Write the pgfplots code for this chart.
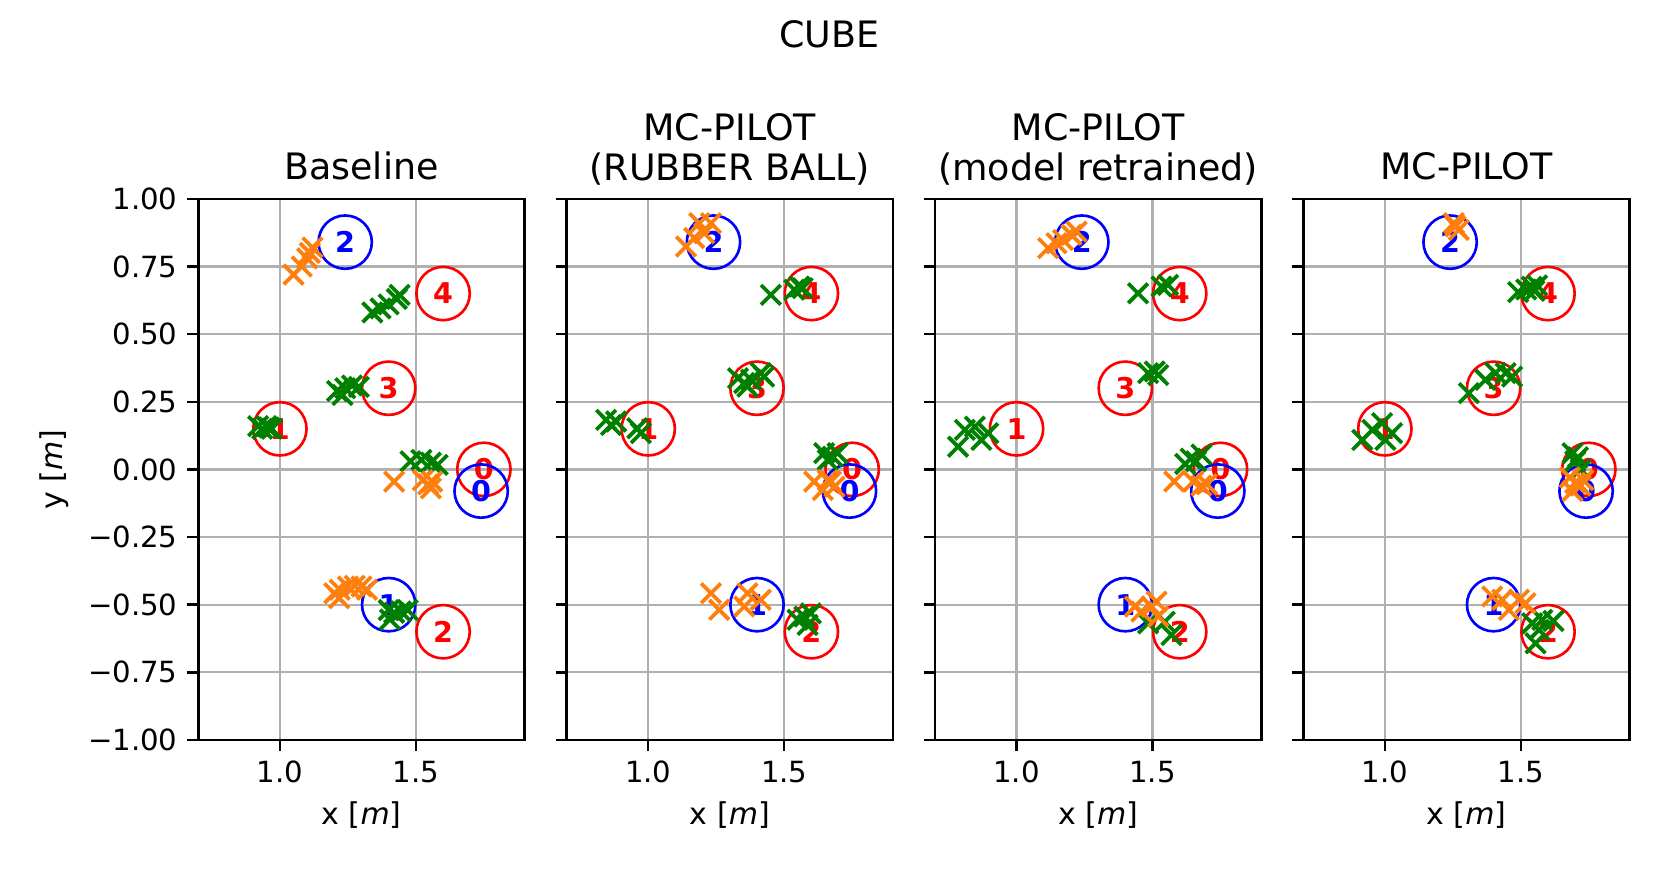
\documentclass[border=0pt]{standalone}
\usepackage{fontspec}
\setmainfont{DejaVu Sans}
\usepackage{pgfplots}
\usepackage{pgfplotstable}
\pgfplotsset{compat=1.18}

\definecolor{mplgreen}{HTML}{008000}
\definecolor{mplorange}{HTML}{FF7F0E}
\definecolor{gridgray}{HTML}{B0B0B0}

\pgfplotstableread{
x y l
1.75 0.00 0
1.00 0.15 1
1.60 -0.60 2
1.40 0.30 3
1.60 0.65 4
}\redtargets
\pgfplotstableread{
x y l
1.74 -0.08 0
1.40 -0.50 1
1.24 0.84 2
}\bluetargets

\pgfplotsset{
  panel/.style={
    scale only axis, width=117.5pt, height=194.8pt,
    xmin=0.70, xmax=1.90, ymin=-1, ymax=1,
    xtick={1.0,1.5}, xticklabels={1.0,1.5},
    ytick={-1,-0.75,-0.5,-0.25,0,0.25,0.5,0.75,1},
    grid=major, grid style={gridgray, line width=0.8pt},
    axis line style={line width=0.9pt},
    tick style={black, line width=0.9pt},
    major tick length=4pt,
    tick align=outside, xtick pos=bottom, ytick pos=left,
    /pgf/number format/assume math mode=true,
    tick label style={font=\fontsize{10.5}{12}\selectfont},
    label style={font=\fontsize{10.8}{12}\selectfont},
    xlabel={x [\textit{m}]},
    title style={font=\fontsize{13.1}{14.2}\selectfont, align=center, anchor=south, at={(0.5,1)}, yshift=-2.8pt},
    clip=false,
  },
  twoline/.style={title style={yshift=-1.7pt}},
  tgt/.style={only marks, mark=o, mark size=9.6pt, mark options={line width=0.95pt}, color=#1,
    nodes near coords, point meta=explicit symbolic,
    every node near coord/.append style={anchor=center, inner sep=0pt, text=#1, font=\bfseries\fontsize{10.3}{12}\selectfont}},
  hit/.style={only marks, mark=x, mark size=5pt, mark options={line width=1.35pt}, color=#1},
}

\newcommand{\targets}{%
  \addplot[tgt=red] table[x=x, y=y, meta=l] {\redtargets};
  \addplot[tgt=blue] table[x=x, y=y, meta=l] {\bluetargets};
}

\begin{document}
\begin{tikzpicture}
\path[use as bounding box] (-71.4pt,-48.2pt) rectangle (526.6pt,266.4pt);

\begin{axis}[panel, at={(0pt,0pt)}, title={Baseline}, ylabel={y [\textit{m}]},
  yticklabels={−1.00,−0.75,−0.50,−0.25,0.00,0.25,0.50,0.75,1.00}]
\targets
\addplot[hit=mplgreen] coordinates {
(0.92,0.16)(0.935,0.15)(0.95,0.16)(0.96,0.155)(0.97,0.15)
(1.21,0.29)(1.23,0.275)(1.24,0.30)(1.265,0.31)(1.29,0.305)
(1.34,0.58)(1.37,0.595)(1.40,0.61)(1.43,0.63)(1.44,0.645)
(1.48,0.03)(1.52,0.035)(1.555,0.025)(1.58,0.017)
(1.40,-0.52)(1.42,-0.53)(1.445,-0.525)(1.47,-0.52)(1.405,-0.555)
};
\addplot[hit=mplorange] coordinates {
(1.05,0.72)(1.08,0.75)(1.10,0.78)(1.11,0.80)(1.12,0.82)
(1.42,-0.045)(1.525,-0.04)(1.545,-0.055)(1.56,-0.045)(1.555,-0.07)
(1.20,-0.458)(1.22,-0.445)(1.25,-0.433)(1.275,-0.43)(1.30,-0.433)(1.32,-0.445)(1.218,-0.476)
};
\end{axis}

\begin{axis}[panel, twoline, at={(132.6pt,0pt)}, title={MC-PILOT\\(RUBBER BALL)}, yticklabels={}]
\targets
\addplot[hit=mplgreen] coordinates {
(0.845,0.183)(0.863,0.164)(0.882,0.177)(0.96,0.152)(0.973,0.134)
(1.33,0.337)(1.353,0.319)(1.378,0.331)(1.414,0.356)(1.426,0.343)(1.365,0.306)
(1.451,0.645)(1.537,0.664)(1.555,0.676)(1.568,0.67)
(1.647,0.06)(1.678,0.047)(1.696,0.06)(1.66,0.035)
(1.549,-0.556)(1.574,-0.544)(1.598,-0.532)(1.586,-0.575)
};
\addplot[hit=mplorange] coordinates {
(1.139,0.824)(1.169,0.855)(1.188,0.91)(1.206,0.873)(1.231,0.91)
(1.61,-0.045)(1.642,-0.076)(1.66,-0.04)(1.672,-0.045)(1.685,-0.064)
(1.231,-0.458)(1.261,-0.519)(1.353,-0.507)(1.365,-0.458)(1.414,-0.482)
};
\end{axis}

\begin{axis}[panel, twoline, at={(265.2pt,0pt)}, title={MC-PILOT\\(model retrained)}, yticklabels={}]
\targets
\addplot[hit=mplgreen] coordinates {
(0.785,0.084)(0.81,0.146)(0.847,0.158)(0.871,0.109)(0.896,0.134)
(1.484,0.356)(1.508,0.362)(1.521,0.349)
(1.447,0.651)(1.533,0.676)(1.557,0.682)
(1.62,0.02)(1.64,0.04)(1.66,0.03)(1.68,0.055)
(1.484,-0.569)(1.545,-0.563)(1.57,-0.612)
};
\addplot[hit=mplorange] coordinates {
(1.116,0.818)(1.147,0.836)(1.171,0.848)(1.202,0.867)(1.221,0.879)
(1.58,-0.045)(1.65,-0.045)(1.68,-0.06)(1.70,-0.055)
(1.435,-0.507)(1.459,-0.526)(1.496,-0.507)(1.515,-0.489)(1.521,-0.544)
};
\end{axis}

\begin{axis}[panel, at={(397.8pt,0pt)}, title={MC-PILOT}, yticklabels={}]
\targets
\addplot[hit=mplgreen] coordinates {
(0.917,0.109)(0.954,0.146)(0.99,0.171)(1.027,0.134)(1.002,0.109)
(1.309,0.282)(1.37,0.331)(1.407,0.356)(1.444,0.356)(1.468,0.343)
(1.49,0.655)(1.52,0.665)(1.54,0.675)(1.56,0.68)(1.55,0.66)
(1.69,0.06)(1.70,0.03)(1.71,0.045)(1.72,0.0)
(1.542,-0.569)(1.567,-0.593)(1.554,-0.643)(1.579,-0.556)(1.62,-0.56)
};
\addplot[hit=mplorange] coordinates {
(1.254,0.91)(1.26,0.898)(1.272,0.885)
(1.68,-0.03)(1.70,-0.05)(1.72,-0.06)(1.69,-0.08)(1.73,-0.04)
(1.395,-0.47)(1.432,-0.482)(1.456,-0.519)(1.493,-0.482)(1.517,-0.495)
};
\end{axis}

\node[font=\fontsize{13.1}{15}\selectfont] at (227.1pt,254.2pt) {CUBE};
\end{tikzpicture}
\end{document}
